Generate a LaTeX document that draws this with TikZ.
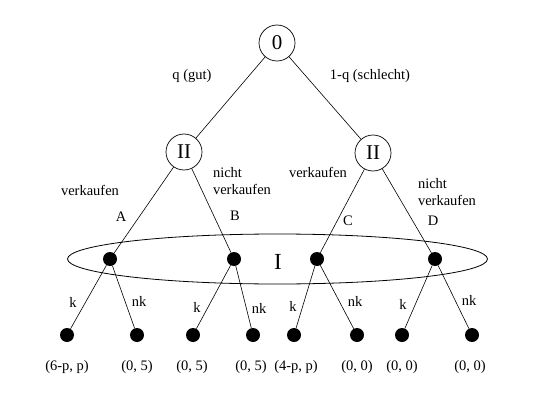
\documentclass[tikz,border=0pt]{standalone}
\usepackage{fontspec}
\setmainfont{Liberation Serif}
\begin{document}
\begin{tikzpicture}[x=1pt,y=-1pt,
  chance/.style={draw,circle,minimum size=36pt,inner sep=0pt,line width=0.7pt,font=\fontsize{21}{21}\selectfont},
  dot/.style={fill,circle,minimum size=14pt,inner sep=0pt},
  lbl/.style={font=\fontsize{14.5}{16.5}\selectfont,align=left,inner sep=0pt},
  edge/.style={line width=0.6pt}]
\useasboundingbox (0,0) rectangle (540,417);
\node[chance] (r) at (277,43) {0};
\node[chance] (L) at (184,152) {II};
\node[chance] (R) at (373,153) {II};
\node[dot] (a) at (110,259) {};
\node[dot] (b) at (234,259) {};
\node[dot] (c) at (317,259) {};
\node[dot] (d) at (435,259) {};
\node[dot] (l1) at (67,335) {};
\node[dot] (l2) at (137,335) {};
\node[dot] (l3) at (193,335) {};
\node[dot] (l4) at (253,335) {};
\node[dot] (l5) at (294,335) {};
\node[dot] (l6) at (357,335) {};
\node[dot] (l7) at (402,335) {};
\node[dot] (l8) at (472,335) {};
\draw[line width=0.8pt] (277.5,259) ellipse [x radius=210, y radius=25];
\node[font=\fontsize{23}{23}\selectfont] (I) at (278,262) {I};
\draw[edge] (r) -- (L);
\draw[edge] (r) -- (R);
\draw[edge] (L) -- (a);
\draw[edge] (L) -- (b);
\draw[edge] (R) -- (c);
\draw[edge] (R) -- (d);
\draw[edge] (a) -- (l1);
\draw[edge] (a) -- (l2);
\draw[edge] (b) -- (l3);
\draw[edge] (b) -- (l4);
\draw[edge] (c) -- (l5);
\draw[edge] (c) -- (l6);
\draw[edge] (d) -- (l7);
\draw[edge] (d) -- (l8);
\node[lbl] (tq) at (192,76) {q (gut)};
\node[lbl] (t1q) at (370,76) {1-q (schlecht)};
\node[lbl] (tv1) at (90,190) {verkaufen};
\node[lbl] (tn1) at (242,181) {nicht\\verkaufen};
\node[lbl] (tA) at (121,217) {A};
\node[lbl] (tB) at (235,216) {B};
\node[lbl] (tv2) at (318,172) {verkaufen};
\node[lbl] (tn2) at (447,192) {nicht\\verkaufen};
\node[lbl] (tC) at (348,221) {C};
\node[lbl] (tD) at (433,221) {D};
\node[lbl] (k1) at (73,302) {k};
\node[lbl] (n1) at (139,301) {nk};
\node[lbl] (k2) at (197,307) {k};
\node[lbl] (n2) at (259,308) {nk};
\node[lbl] (k3) at (293,306) {k};
\node[lbl] (n3) at (355,301) {nk};
\node[lbl] (k4) at (403,304) {k};
\node[lbl] (n4) at (469,300) {nk};
\node[lbl] (p1) at (67,367) {(6-p, p)};
\node[lbl] (p2) at (137,367) {(0, 5)};
\node[lbl] (p3) at (192,367) {(0, 5)};
\node[lbl] (p4) at (251,367) {(0, 5)};
\node[lbl] (p5) at (296,367) {(4-p, p)};
\node[lbl] (p6) at (357,367) {(0, 0)};
\node[lbl] (p7) at (402,367) {(0, 0)};
\node[lbl] (p8) at (470,367) {(0, 0)};
\end{tikzpicture}
\end{document}
